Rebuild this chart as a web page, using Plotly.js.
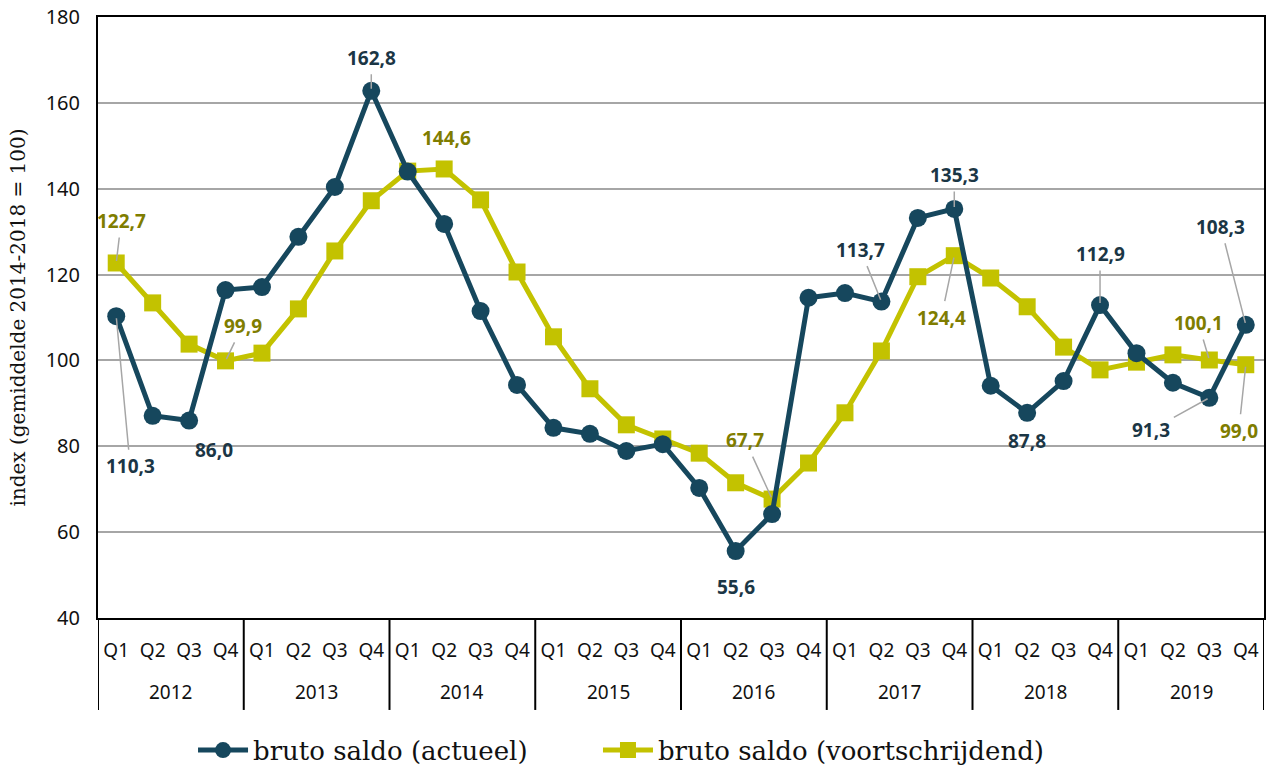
<!DOCTYPE html>
<html>
<head>
<meta charset="utf-8">
<script src="https://cdn.plot.ly/plotly-3.0.1.min.js"></script>
<style>html,body{margin:0;padding:0;background:#fff;}#chart{width:1270px;height:768px;}</style>
</head>
<body>
<div id="chart"></div>
<script>
// ---- data ----
const years = ["2012", "2013", "2014", "2015", "2016", "2017", "2018", "2019"];
const quarters = ["Q1", "Q2", "Q3", "Q4"];
const actueel = [110.3, 87.1, 86.0, 116.4, 117.1, 128.8, 140.4, 162.8,
                 144.0, 131.8, 111.5, 94.3, 84.3, 82.9, 78.9, 80.5,
                 70.3, 55.6, 64.2, 114.6, 115.7, 113.7, 133.2, 135.3,
                 94.1, 87.8, 95.2, 112.9, 101.7, 94.8, 91.3, 108.3];
const voortschrijdend = [122.7, 113.4, 103.8, 99.9, 101.7, 112.0, 125.5, 137.2,
                 144.1, 144.6, 137.4, 120.6, 105.5, 93.4, 85.0, 81.7,
                 78.4, 71.5, 67.7, 76.1, 87.8, 102.2, 119.5, 124.4,
                 119.2, 112.5, 103.1, 97.8, 99.6, 101.3, 100.1, 99.0];
const seriesNames = ["bruto saldo (actueel)", "bruto saldo (voortschrijdend)"];
const yTitle = "index (gemiddelde 2014-2018 = 100)";

// indices of labelled points
const labelsActueel = [0, 2, 7, 17, 21, 23, 25, 27, 30, 31];
const labelsVoort = [0, 3, 9, 18, 23, 30, 31];

// ---- styling ----
const darkCol = "#16475d";
const yelCol = "#c3c200";
const darkTxt = "#1b3645";
const yelTxt = "#7f7d00";

const idx = [];
const qText = [];
years.forEach((y, yi) => quarters.forEach((q, qi) => { idx.push(yi * 4 + qi); qText.push(q); }));

const fmt = v => v.toFixed(1).replace('.', ',');

// label placement offsets (pixels): [dx, dy, leader]
const offA = {0: [14, 150, true], 2: [25, 29, false], 7: [0, -33, true], 17: [0, 36, false],
              21: [-21, -52, true], 23: [0, -34, true], 25: [0, 28, false], 27: [0, -51, true],
              30: [-58, 32, true], 31: [-25, -98, true]};
const offV = {0: [5, -42, true], 3: [17, -35, true], 9: [2, -31, false], 18: [-27, -59, true],
              23: [-13, 62, true], 30: [-11, -37, true], 31: [-7, 66, true]};

const annotations = [];
function addLabels(list, vals, offs, col) {
  list.forEach(i => {
    const o = offs[i];
    const a = {x: i, y: vals[i], xref: 'x', yref: 'y', text: fmt(vals[i]),
      font: {family: 'Noto Sans', size: 19, color: col, weight: 'bold'}};
    if (o[2]) {
      Object.assign(a, {showarrow: true, ax: o[0], ay: o[1], axref: 'pixel', ayref: 'pixel',
        arrowhead: 0, arrowwidth: 1.5, arrowcolor: '#a6a6a6', standoff: 2, borderpad: 3});
    } else {
      Object.assign(a, {showarrow: false, xshift: o[0], yshift: -o[1]});
    }
    annotations.push(a);
  });
}
addLabels(labelsVoort, voortschrijdend, offV, yelTxt);
addLabels(labelsActueel, actueel, offA, darkTxt);

// year labels
years.forEach((y, yi) => annotations.push({
  x: yi * 4 + 1.5, y: -0.123, xref: 'x', yref: 'paper', text: y, showarrow: false,
  yanchor: 'middle', font: {family: 'Noto Sans', size: 19, color: '#111'}
}));

// dividers
const shapes = [];
for (let k = 0; k <= years.length; k++) {
  shapes.push({type: 'line', xref: 'x', yref: 'paper', x0: k * 4 - 0.5, x1: k * 4 - 0.5,
    y0: 0, y1: -0.153, line: {color: '#000', width: 2}});
}

const traces = [
  {x: idx, y: voortschrijdend, name: seriesNames[1], type: 'scatter', mode: 'lines+markers',
   line: {color: yelCol, width: 5}, marker: {symbol: 'square', size: 17, color: yelCol},
   legend: 'legend2', cliponaxis: false},
  {x: idx, y: actueel, name: seriesNames[0], type: 'scatter', mode: 'lines+markers',
   line: {color: darkCol, width: 5}, marker: {symbol: 'circle', size: 18, color: darkCol},
   legend: 'legend', cliponaxis: false}
];

const legFont = {family: 'DejaVu Serif', size: 26, color: '#111'};
const layout = {
  width: 1270, height: 768,
  margin: {l: 98, r: 6, t: 17, b: 150, autoexpand: false},
  paper_bgcolor: '#fff', plot_bgcolor: '#fff',
  showlegend: true,
  legend: {orientation: 'h', x: 0.0815, xanchor: 'left', y: -0.22, yanchor: 'middle',
    font: legFont, itemwidth: 50},
  legend2: {orientation: 'h', x: 0.4288, xanchor: 'left', y: -0.22, yanchor: 'middle',
    font: legFont, itemwidth: 50},
  xaxis: {range: [-0.5, 31.5], tickvals: idx, ticktext: qText, showgrid: false, zeroline: false,
    showline: true, mirror: true, linecolor: '#000', linewidth: 2, ticks: '',
    ticklabelstandoff: 14, tickfont: {family: 'Noto Sans', size: 19, color: '#111'}, fixedrange: true},
  yaxis: {range: [40, 180], dtick: 20, tick0: 40, showgrid: true, gridcolor: '#a6a6a6', gridwidth: 2,
    zeroline: false, showline: true, mirror: true, linecolor: '#000', linewidth: 2, ticks: '',
    ticklabelstandoff: 12, tickfont: {family: 'Noto Sans', size: 20, color: '#111'},
    title: {text: yTitle, standoff: 15, font: {family: 'DejaVu Serif', size: 20, color: '#111'}}},
  annotations: annotations,
  shapes: shapes
};

Plotly.newPlot('chart', traces, layout, {displayModeBar: false, staticPlot: true});
</script>
</body>
</html>
